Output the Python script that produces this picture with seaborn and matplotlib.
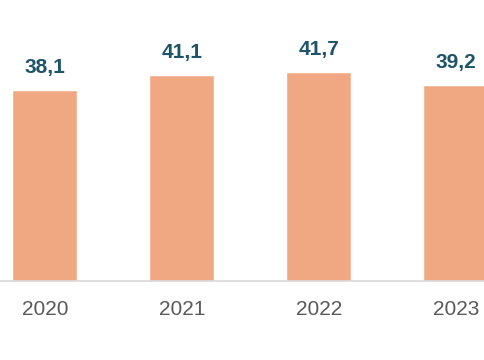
import pandas as pd
import matplotlib.pyplot as plt
import seaborn as sns

# dados
anos = ['2020', '2021', '2022', '2023']
valores = [38.1, 41.1, 41.7, 39.2]
rotulos = ['38,1', '41,1', '41,7', '39,2']

df = pd.DataFrame({'ano': anos, 'valor': valores})

sns.set_style('white')
plt.rcParams['font.family'] = ['Liberation Sans', 'DejaVu Sans']

fig = plt.figure(figsize=(4.85, 3.6), dpi=100)
ax = fig.add_axes([0, 0.2194, 1, 0.7806])

sns.barplot(data=df, x='ano', y='valor', color='#F0A882', width=0.475,
            saturation=1, ax=ax)

for i, (v, r) in enumerate(zip(valores, rotulos)):
    ax.annotate(r, (i, v), xytext=(0, 12), textcoords='offset points',
                ha='center', va='baseline', fontsize=15, fontweight='bold',
                color='#1E5468')

ax.set_xlim(-0.328, 3.212)
ax.set_ylim(0, 56.1)
ax.set_xlabel('')
ax.set_ylabel('')
ax.set_yticks([])
ax.tick_params(axis='x', length=0, pad=14, labelsize=15, labelcolor='#595959')
for lado in ['top', 'left', 'right']:
    ax.spines[lado].set_visible(False)
ax.spines['bottom'].set_color('#D9D9D9')
ax.spines['bottom'].set_linewidth(1.2)

fig.savefig('out.png', dpi=100)
